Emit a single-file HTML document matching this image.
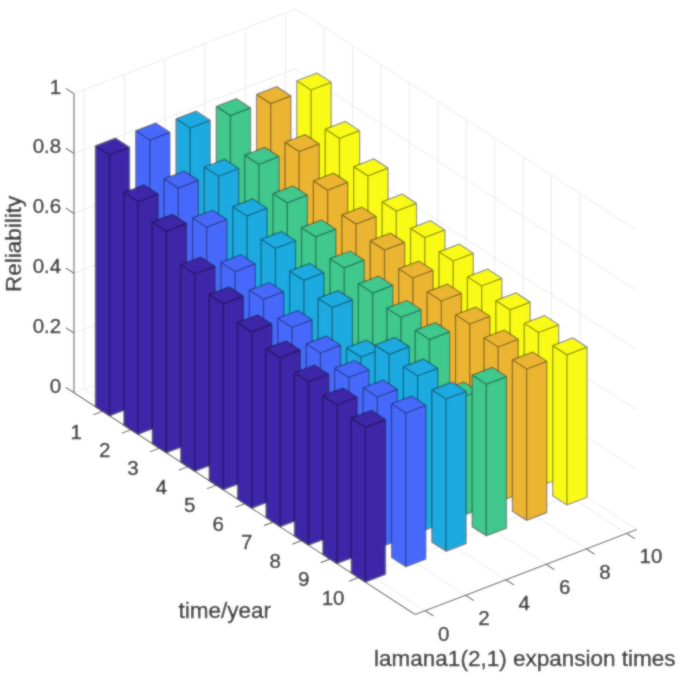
<!DOCTYPE html>
<html><head><meta charset="utf-8"><title>Reliability</title>
<style>
html,body{margin:0;padding:0;background:#fff;}
body{width:685px;height:685px;overflow:hidden;position:relative;font-family:"Liberation Sans",sans-serif;}
svg{display:block}
.g{stroke:#eaeaea;stroke-width:1;fill:none}
.a{stroke:#666;stroke-width:1.15;fill:none}
.b path{stroke:#000;stroke-opacity:.42;stroke-width:1.3;stroke-linejoin:round}
.t{font-family:"Liberation Sans",sans-serif;font-size:20.5px;fill:#1c1c1c;stroke:#1c1c1c;stroke-width:.4}
.l{font-family:"Liberation Sans",sans-serif;font-size:22.5px;fill:#1c1c1c;stroke:#1c1c1c;stroke-width:.4}
</style></head><body>
<svg width="685" height="685" viewBox="0 0 685 685" style="position:absolute;left:0;top:0">
<defs><filter id="soft" x="0" y="0" width="685" height="685" filterUnits="userSpaceOnUse"><feGaussianBlur stdDeviation="0.8" result="b"/><feComposite in="b" in2="SourceGraphic" operator="arithmetic" k1="0" k2="0.55" k3="0.45" k4="0"/></filter></defs>
<g filter="url(#soft)">
<rect width="685" height="685" fill="#fff"/>
<g><line x1="74.00" y1="392.80" x2="295.65" y2="307.83" class="g"/><line x1="295.65" y1="307.83" x2="636.81" y2="529.58" class="g"/><line x1="74.00" y1="333.00" x2="295.65" y2="248.03" class="g"/><line x1="295.65" y1="248.03" x2="636.81" y2="469.78" class="g"/><line x1="74.00" y1="273.20" x2="295.65" y2="188.23" class="g"/><line x1="295.65" y1="188.23" x2="636.81" y2="409.98" class="g"/><line x1="74.00" y1="213.40" x2="295.65" y2="128.43" class="g"/><line x1="295.65" y1="128.43" x2="636.81" y2="350.18" class="g"/><line x1="74.00" y1="153.60" x2="295.65" y2="68.63" class="g"/><line x1="295.65" y1="68.63" x2="636.81" y2="290.38" class="g"/><line x1="74.00" y1="93.80" x2="295.65" y2="8.83" class="g"/><line x1="295.65" y1="8.83" x2="636.81" y2="230.58" class="g"/><line x1="84.08" y1="388.94" x2="84.08" y2="89.94" class="g"/><line x1="84.08" y1="388.94" x2="425.23" y2="610.70" class="g"/><line x1="124.38" y1="373.49" x2="124.38" y2="74.49" class="g"/><line x1="124.38" y1="373.49" x2="465.53" y2="595.25" class="g"/><line x1="164.68" y1="358.04" x2="164.68" y2="59.04" class="g"/><line x1="164.68" y1="358.04" x2="505.83" y2="579.80" class="g"/><line x1="204.97" y1="342.59" x2="204.97" y2="43.59" class="g"/><line x1="204.97" y1="342.59" x2="546.13" y2="564.35" class="g"/><line x1="245.27" y1="327.14" x2="245.27" y2="28.14" class="g"/><line x1="245.27" y1="327.14" x2="586.43" y2="548.90" class="g"/><line x1="285.57" y1="311.69" x2="285.57" y2="12.69" class="g"/><line x1="285.57" y1="311.69" x2="626.73" y2="533.45" class="g"/><line x1="324.08" y1="326.31" x2="324.08" y2="27.31" class="g"/><line x1="102.43" y1="411.28" x2="324.08" y2="326.31" class="g"/><line x1="352.51" y1="344.78" x2="352.51" y2="45.78" class="g"/><line x1="130.86" y1="429.76" x2="352.51" y2="344.78" class="g"/><line x1="380.94" y1="363.26" x2="380.94" y2="64.26" class="g"/><line x1="159.29" y1="448.24" x2="380.94" y2="363.26" class="g"/><line x1="409.37" y1="381.75" x2="409.37" y2="82.75" class="g"/><line x1="187.72" y1="466.72" x2="409.37" y2="381.75" class="g"/><line x1="437.80" y1="400.23" x2="437.80" y2="101.23" class="g"/><line x1="216.15" y1="485.20" x2="437.80" y2="400.23" class="g"/><line x1="466.23" y1="418.71" x2="466.23" y2="119.71" class="g"/><line x1="244.58" y1="503.68" x2="466.23" y2="418.71" class="g"/><line x1="494.66" y1="437.19" x2="494.66" y2="138.19" class="g"/><line x1="273.01" y1="522.16" x2="494.66" y2="437.19" class="g"/><line x1="523.09" y1="455.66" x2="523.09" y2="156.66" class="g"/><line x1="301.44" y1="540.64" x2="523.09" y2="455.66" class="g"/><line x1="551.52" y1="474.14" x2="551.52" y2="175.14" class="g"/><line x1="329.87" y1="559.12" x2="551.52" y2="474.14" class="g"/><line x1="579.95" y1="492.62" x2="579.95" y2="193.62" class="g"/><line x1="358.30" y1="577.60" x2="579.95" y2="492.62" class="g"/><line x1="74.00" y1="392.80" x2="74.00" y2="93.80" class="a"/><line x1="74.00" y1="392.80" x2="415.16" y2="614.56" class="a"/><line x1="415.16" y1="614.56" x2="636.81" y2="529.58" class="a"/><line x1="74.00" y1="392.80" x2="65.80" y2="387.50" class="a"/><line x1="74.00" y1="333.00" x2="65.80" y2="327.70" class="a"/><line x1="74.00" y1="273.20" x2="65.80" y2="267.90" class="a"/><line x1="74.00" y1="213.40" x2="65.80" y2="208.10" class="a"/><line x1="74.00" y1="153.60" x2="65.80" y2="148.30" class="a"/><line x1="74.00" y1="93.80" x2="65.80" y2="88.50" class="a"/><line x1="102.43" y1="411.28" x2="93.28" y2="414.78" class="a"/><line x1="130.86" y1="429.76" x2="121.71" y2="433.26" class="a"/><line x1="159.29" y1="448.24" x2="150.14" y2="451.74" class="a"/><line x1="187.72" y1="466.72" x2="178.57" y2="470.22" class="a"/><line x1="216.15" y1="485.20" x2="207.00" y2="488.70" class="a"/><line x1="244.58" y1="503.68" x2="235.43" y2="507.18" class="a"/><line x1="273.01" y1="522.16" x2="263.86" y2="525.66" class="a"/><line x1="301.44" y1="540.64" x2="292.29" y2="544.14" class="a"/><line x1="329.87" y1="559.12" x2="320.72" y2="562.62" class="a"/><line x1="358.30" y1="577.60" x2="349.15" y2="581.10" class="a"/><line x1="425.23" y1="610.70" x2="433.43" y2="616.00" class="a"/><line x1="465.53" y1="595.25" x2="473.73" y2="600.55" class="a"/><line x1="505.83" y1="579.80" x2="514.03" y2="585.10" class="a"/><line x1="546.13" y1="564.35" x2="554.34" y2="569.65" class="a"/><line x1="586.43" y1="548.90" x2="594.63" y2="554.20" class="a"/><line x1="626.73" y1="533.45" x2="634.93" y2="538.75" class="a"/></g>
<g class="b"><path d="M296.82,80.76 316.97,73.04 331.19,82.28 331.19,330.93 311.04,338.65 296.82,329.41Z M311.04,90.00 L311.04,338.65 M296.82,80.76 L311.04,90.00 M311.04,90.00 L331.19,82.28" fill="#F9FB15"/><path d="M256.52,94.36 276.67,86.63 290.89,95.87 290.89,346.38 270.74,354.10 256.52,344.86Z M270.74,103.60 L270.74,354.10 M256.52,94.36 L270.74,103.60 M270.74,103.60 L290.89,95.87" fill="#EBB532"/><path d="M216.22,106.37 236.37,98.64 250.59,107.88 250.59,361.83 230.44,369.55 216.22,360.31Z M230.44,115.61 L230.44,369.55 M216.22,106.37 L230.44,115.61 M230.44,115.61 L250.59,107.88" fill="#3FC88D"/><path d="M175.92,118.77 196.07,111.04 210.29,120.28 210.29,377.28 190.14,385.00 175.92,375.76Z M190.14,128.01 L190.14,385.00 M175.92,118.77 L190.14,128.01 M190.14,128.01 L210.29,120.28" fill="#1DAAE0"/><path d="M135.62,130.78 155.77,123.06 169.99,132.30 169.99,392.73 149.84,400.45 135.62,391.21Z M149.84,140.02 L149.84,400.45 M135.62,130.78 L149.84,140.02 M149.84,140.02 L169.99,132.30" fill="#4669FB"/><path d="M95.32,145.75 115.47,138.03 129.69,147.27 129.69,408.18 109.54,415.90 95.32,406.66Z M109.54,154.99 L109.54,415.90 M95.32,145.75 L109.54,154.99 M109.54,154.99 L129.69,147.27" fill="#3E26A8"/><path d="M325.25,129.17 345.40,121.45 359.62,130.69 359.62,349.40 339.47,357.13 325.25,347.89Z M339.47,138.41 L339.47,357.13 M325.25,129.17 L339.47,138.41 M339.47,138.41 L359.62,130.69" fill="#F9FB15"/><path d="M284.95,142.38 305.10,134.65 319.32,143.89 319.32,364.86 299.17,372.58 284.95,363.34Z M299.17,151.62 L299.17,372.58 M284.95,142.38 L299.17,151.62 M299.17,151.62 L319.32,143.89" fill="#EBB532"/><path d="M244.65,155.14 264.80,147.41 279.02,156.65 279.02,380.31 258.87,388.03 244.65,378.79Z M258.87,164.38 L258.87,388.03 M244.65,155.14 L258.87,164.38 M258.87,164.38 L279.02,156.65" fill="#3FC88D"/><path d="M204.35,167.00 224.50,159.27 238.72,168.51 238.72,395.75 218.57,403.48 204.35,394.24Z M218.57,176.24 L218.57,403.48 M204.35,167.00 L218.57,176.24 M218.57,176.24 L238.72,168.51" fill="#1DAAE0"/><path d="M164.05,178.86 184.20,171.14 198.42,180.38 198.42,411.20 178.27,418.93 164.05,409.69Z M178.27,188.10 L178.27,418.93 M164.05,178.86 L178.27,188.10 M178.27,188.10 L198.42,180.38" fill="#4669FB"/><path d="M123.75,192.52 143.90,184.79 158.12,194.03 158.12,426.65 137.97,434.38 123.75,425.14Z M137.97,201.76 L137.97,434.38 M123.75,192.52 L137.97,201.76 M137.97,201.76 L158.12,194.03" fill="#3E26A8"/><path d="M353.68,166.64 373.83,158.91 388.05,168.15 388.05,367.88 367.90,375.61 353.68,366.37Z M367.90,175.88 L367.90,375.61 M353.68,166.64 L367.90,175.88 M367.90,175.88 L388.05,168.15" fill="#F9FB15"/><path d="M313.38,180.89 333.53,173.17 347.75,182.41 347.75,383.34 327.60,391.06 313.38,381.82Z M327.60,190.13 L327.60,391.06 M313.38,180.89 L327.60,190.13 M327.60,190.13 L347.75,182.41" fill="#EBB532"/><path d="M273.08,193.65 293.23,185.93 307.45,195.17 307.45,398.79 287.30,406.51 273.08,397.27Z M287.30,202.89 L287.30,406.51 M273.08,193.65 L287.30,202.89 M287.30,202.89 L307.45,195.17" fill="#3FC88D"/><path d="M232.78,206.71 252.93,198.98 267.15,208.22 267.15,414.24 247.00,421.96 232.78,412.72Z M247.00,215.95 L247.00,421.96 M232.78,206.71 L247.00,215.95 M247.00,215.95 L267.15,208.22" fill="#1DAAE0"/><path d="M192.48,217.97 212.63,210.25 226.85,219.49 226.85,429.69 206.70,437.41 192.48,428.17Z M206.70,227.21 L206.70,437.41 M192.48,217.97 L206.70,227.21 M206.70,227.21 L226.85,219.49" fill="#4669FB"/><path d="M152.18,222.06 172.33,214.34 186.55,223.58 186.55,445.13 166.40,452.86 152.18,443.62Z M166.40,231.30 L166.40,452.86 M152.18,222.06 L166.40,231.30 M166.40,231.30 L186.55,223.58" fill="#3E26A8"/><path d="M382.11,201.86 402.26,194.14 416.48,203.38 416.48,386.37 396.33,394.09 382.11,384.85Z M396.33,211.10 L396.33,394.09 M382.11,201.86 L396.33,211.10 M396.33,211.10 L416.48,203.38" fill="#F9FB15"/><path d="M341.81,214.92 361.96,207.20 376.18,216.44 376.18,401.82 356.03,409.54 341.81,400.30Z M356.03,224.16 L356.03,409.54 M341.81,214.92 L356.03,224.16 M356.03,224.16 L376.18,216.44" fill="#EBB532"/><path d="M301.51,227.68 321.66,219.95 335.88,229.19 335.88,417.27 315.73,424.99 301.51,415.75Z M315.73,236.92 L315.73,424.99 M301.51,227.68 L315.73,236.92 M315.73,236.92 L335.88,229.19" fill="#3FC88D"/><path d="M261.21,239.24 281.36,231.52 295.58,240.76 295.58,432.72 275.43,440.44 261.21,431.20Z M275.43,248.48 L275.43,440.44 M261.21,239.24 L275.43,248.48 M275.43,248.48 L295.58,240.76" fill="#1DAAE0"/><path d="M220.91,262.47 241.06,254.74 255.28,263.98 255.28,448.17 235.13,455.89 220.91,446.65Z M235.13,271.71 L235.13,455.89 M220.91,262.47 L235.13,271.71 M235.13,271.71 L255.28,263.98" fill="#4669FB"/><path d="M180.61,264.76 200.76,257.03 214.98,266.27 214.98,463.62 194.83,471.34 180.61,462.10Z M194.83,274.00 L194.83,471.34 M180.61,264.76 L194.83,274.00 M194.83,274.00 L214.98,266.27" fill="#3E26A8"/><path d="M410.54,228.42 430.69,220.69 444.91,229.93 444.91,404.85 424.76,412.57 410.54,403.33Z M424.76,237.66 L424.76,412.57 M410.54,228.42 L424.76,237.66 M424.76,237.66 L444.91,229.93" fill="#F9FB15"/><path d="M370.24,240.88 390.39,233.15 404.61,242.39 404.61,420.30 384.46,428.02 370.24,418.78Z M384.46,250.11 L384.46,428.02 M370.24,240.88 L384.46,250.11 M384.46,250.11 L404.61,242.39" fill="#EBB532"/><path d="M329.94,258.72 350.09,250.99 364.31,260.23 364.31,435.75 344.16,443.47 329.94,434.23Z M344.16,267.96 L344.16,443.47 M329.94,258.72 L344.16,267.96 M344.16,267.96 L364.31,260.23" fill="#3FC88D"/><path d="M289.64,271.18 309.79,263.45 324.01,272.69 324.01,451.19 303.86,458.92 289.64,449.68Z M303.86,280.42 L303.86,458.92 M289.64,271.18 L303.86,280.42 M303.86,280.42 L324.01,272.69" fill="#1DAAE0"/><path d="M249.34,290.22 269.49,282.49 283.71,291.73 283.71,466.64 263.56,474.37 249.34,465.13Z M263.56,299.46 L263.56,474.37 M249.34,290.22 L263.56,299.46 M263.56,299.46 L283.71,291.73" fill="#4669FB"/><path d="M209.04,294.60 229.19,286.88 243.41,296.12 243.41,482.09 223.26,489.82 209.04,480.58Z M223.26,303.84 L223.26,489.82 M209.04,294.60 L223.26,303.84 M223.26,303.84 L243.41,296.12" fill="#3E26A8"/><path d="M438.97,251.77 459.12,244.04 473.34,253.28 473.34,423.33 453.19,431.05 438.97,421.81Z M453.19,261.01 L453.19,431.05 M438.97,251.77 L453.19,261.01 M453.19,261.01 L473.34,253.28" fill="#F9FB15"/><path d="M398.67,268.77 418.82,261.05 433.04,270.29 433.04,438.78 412.89,446.50 398.67,437.26Z M412.89,278.01 L412.89,446.50 M398.67,268.77 L412.89,278.01 M412.89,278.01 L433.04,270.29" fill="#EBB532"/><path d="M358.37,283.78 378.52,276.05 392.74,285.29 392.74,454.23 372.59,461.95 358.37,452.71Z M372.59,293.02 L372.59,461.95 M358.37,283.78 L372.59,293.02 M372.59,293.02 L392.74,285.29" fill="#3FC88D"/><path d="M318.07,298.33 338.22,290.60 352.44,299.84 352.44,469.68 332.29,477.40 318.07,468.16Z M332.29,307.57 L332.29,477.40 M318.07,298.33 L332.29,307.57 M332.29,307.57 L352.44,299.84" fill="#1DAAE0"/><path d="M277.77,318.26 297.92,310.54 312.14,319.78 312.14,485.12 291.99,492.85 277.77,483.61Z M291.99,327.50 L291.99,492.85 M277.77,318.26 L291.99,327.50 M291.99,327.50 L312.14,319.78" fill="#4669FB"/><path d="M237.47,322.65 257.62,314.92 271.84,324.16 271.84,500.57 251.69,508.30 237.47,499.06Z M251.69,331.89 L251.69,508.30 M237.47,322.65 L251.69,331.89 M251.69,331.89 L271.84,324.16" fill="#3E26A8"/><path d="M467.40,276.77 487.55,269.04 501.77,278.28 501.77,441.80 481.62,449.53 467.40,440.29Z M481.62,286.01 L481.62,449.53 M467.40,276.77 L481.62,286.01 M481.62,286.01 L501.77,278.28" fill="#F9FB15"/><path d="M427.10,291.77 447.25,284.04 461.47,293.28 461.47,457.25 441.32,464.98 427.10,455.74Z M441.32,301.01 L441.32,464.98 M427.10,291.77 L441.32,301.01 M441.32,301.01 L461.47,293.28" fill="#EBB532"/><path d="M386.80,308.23 406.95,300.51 421.17,309.75 421.17,472.70 401.02,480.43 386.80,471.19Z M401.02,317.47 L401.02,480.43 M386.80,308.23 L401.02,317.47 M401.02,317.47 L421.17,309.75" fill="#3FC88D"/><path d="M346.50,347.90 366.65,340.18 380.87,349.42 380.87,488.15 360.72,495.88 346.50,486.64Z M360.72,357.14 L360.72,495.88 M346.50,347.90 L360.72,357.14 M360.72,357.14 L380.87,349.42" fill="#1DAAE0"/><path d="M306.20,343.77 326.35,336.04 340.57,345.28 340.57,503.60 320.42,511.33 306.20,502.09Z M320.42,353.01 L320.42,511.33 M306.20,343.77 L320.42,353.01 M320.42,353.01 L340.57,345.28" fill="#4669FB"/><path d="M265.90,348.61 286.05,340.88 300.27,350.12 300.27,519.05 280.12,526.78 265.90,517.54Z M280.12,357.85 L280.12,526.78 M265.90,348.61 L280.12,357.85 M280.12,357.85 L300.27,350.12" fill="#3E26A8"/><path d="M495.83,300.60 515.98,292.87 530.20,302.11 530.20,460.28 510.05,468.01 495.83,458.77Z M510.05,309.84 L510.05,468.01 M495.83,300.60 L510.05,309.84 M510.05,309.84 L530.20,302.11" fill="#F9FB15"/><path d="M455.53,314.76 475.68,307.04 489.90,316.28 489.90,475.74 469.75,483.46 455.53,474.22Z M469.75,324.00 L469.75,483.46 M455.53,314.76 L469.75,324.00 M469.75,324.00 L489.90,316.28" fill="#EBB532"/><path d="M415.23,330.30 435.38,322.58 449.60,331.82 449.60,491.19 429.45,498.91 415.23,489.67Z M429.45,339.54 L429.45,498.91 M415.23,330.30 L429.45,339.54 M429.45,339.54 L449.60,331.82" fill="#3FC88D"/><path d="M374.93,345.15 395.08,337.43 409.30,346.67 409.30,506.63 389.15,514.36 374.93,505.12Z M389.15,354.39 L389.15,514.36 M374.93,345.15 L389.15,354.39 M389.15,354.39 L409.30,346.67" fill="#1DAAE0"/><path d="M334.63,368.23 354.78,360.50 369.00,369.74 369.00,522.09 348.85,529.81 334.63,520.57Z M348.85,377.47 L348.85,529.81 M334.63,368.23 L348.85,377.47 M348.85,377.47 L369.00,369.74" fill="#4669FB"/><path d="M294.33,372.74 314.48,365.01 328.70,374.25 328.70,537.53 308.55,545.26 294.33,536.02Z M308.55,381.98 L308.55,545.26 M294.33,372.74 L308.55,381.98 M308.55,381.98 L328.70,374.25" fill="#3E26A8"/><path d="M524.26,323.26 544.41,315.54 558.63,324.78 558.63,478.76 538.48,486.49 524.26,477.25Z M538.48,332.50 L538.48,486.49 M524.26,323.26 L538.48,332.50 M538.48,332.50 L558.63,324.78" fill="#F9FB15"/><path d="M483.96,337.76 504.11,330.03 518.33,339.27 518.33,494.22 498.18,501.94 483.96,492.70Z M498.18,347.00 L498.18,501.94 M483.96,337.76 L498.18,347.00 M498.18,347.00 L518.33,339.27" fill="#EBB532"/><path d="M443.66,389.75 463.81,382.02 478.03,391.26 478.03,509.67 457.88,517.39 443.66,508.15Z M457.88,398.99 L457.88,517.39 M443.66,389.75 L457.88,398.99 M457.88,398.99 L478.03,391.26" fill="#3FC88D"/><path d="M403.36,366.77 423.51,359.05 437.73,368.29 437.73,525.12 417.58,532.84 403.36,523.60Z M417.58,376.01 L417.58,532.84 M403.36,366.77 L417.58,376.01 M417.58,376.01 L437.73,368.29" fill="#1DAAE0"/><path d="M363.06,387.76 383.21,380.03 397.43,389.27 397.43,540.57 377.28,548.29 363.06,539.05Z M377.28,397.00 L377.28,548.29 M363.06,387.76 L377.28,397.00 M377.28,397.00 L397.43,389.27" fill="#4669FB"/><path d="M322.76,395.73 342.91,388.01 357.13,397.25 357.13,556.01 336.98,563.74 322.76,554.50Z M336.98,404.97 L336.98,563.74 M322.76,395.73 L336.98,404.97 M336.98,404.97 L357.13,397.25" fill="#3E26A8"/><path d="M552.69,345.63 572.84,337.91 587.06,347.15 587.06,497.25 566.91,504.97 552.69,495.73Z M566.91,354.87 L566.91,504.97 M552.69,345.63 L566.91,354.87 M566.91,354.87 L587.06,347.15" fill="#F9FB15"/><path d="M512.39,359.77 532.54,352.04 546.76,361.28 546.76,512.70 526.61,520.42 512.39,511.18Z M526.61,369.01 L526.61,520.42 M512.39,359.77 L526.61,369.01 M526.61,369.01 L546.76,361.28" fill="#EBB532"/><path d="M472.09,375.04 492.24,367.31 506.46,376.55 506.46,528.14 486.31,535.87 472.09,526.63Z M486.31,384.28 L486.31,535.87 M472.09,375.04 L486.31,384.28 M486.31,384.28 L506.46,376.55" fill="#3FC88D"/><path d="M431.79,389.77 451.94,382.04 466.16,391.28 466.16,543.60 446.01,551.32 431.79,542.08Z M446.01,399.01 L446.01,551.32 M431.79,389.77 L446.01,399.01 M446.01,399.01 L466.16,391.28" fill="#1DAAE0"/><path d="M391.49,403.75 411.64,396.03 425.86,405.27 425.86,559.05 405.71,566.77 391.49,557.53Z M405.71,412.99 L405.71,566.77 M391.49,403.75 L405.71,412.99 M405.71,412.99 L425.86,405.27" fill="#4669FB"/><path d="M351.19,418.13 371.34,410.40 385.56,419.64 385.56,574.50 365.41,582.22 351.19,572.98Z M365.41,427.37 L365.41,582.22 M351.19,418.13 L365.41,427.37 M365.41,427.37 L385.56,419.64" fill="#3E26A8"/></g>
<g><text x="61.2" y="392.5" text-anchor="end" class="t">0</text><text x="61.2" y="332.7" text-anchor="end" class="t">0.2</text><text x="61.2" y="272.9" text-anchor="end" class="t">0.4</text><text x="61.2" y="213.1" text-anchor="end" class="t">0.6</text><text x="61.2" y="153.3" text-anchor="end" class="t">0.8</text><text x="61.2" y="93.5" text-anchor="end" class="t">1</text><text x="76.1" y="438.5" text-anchor="middle" class="t">1</text><text x="104.6" y="457.0" text-anchor="middle" class="t">2</text><text x="133.0" y="475.4" text-anchor="middle" class="t">3</text><text x="161.4" y="493.9" text-anchor="middle" class="t">4</text><text x="189.8" y="512.4" text-anchor="middle" class="t">5</text><text x="218.3" y="530.9" text-anchor="middle" class="t">6</text><text x="246.7" y="549.4" text-anchor="middle" class="t">7</text><text x="275.1" y="567.8" text-anchor="middle" class="t">8</text><text x="303.6" y="586.3" text-anchor="middle" class="t">9</text><text x="333.1" y="604.8" text-anchor="middle" class="t">10</text><text x="438.0" y="640.7" class="t">0</text><text x="478.3" y="625.2" class="t">2</text><text x="518.6" y="609.8" class="t">4</text><text x="558.9" y="594.3" class="t">6</text><text x="599.2" y="578.9" class="t">8</text><text x="639.5" y="563.4" class="t">10</text><text x="224.8" y="618" text-anchor="middle" class="l">time/year</text><text x="524.8" y="666.4" text-anchor="middle" class="l">lamana1(2,1) expansion times</text><text transform="translate(21,243.8) rotate(-90)" text-anchor="middle" class="l">Reliability</text></g>
</g></svg>
</body></html>
